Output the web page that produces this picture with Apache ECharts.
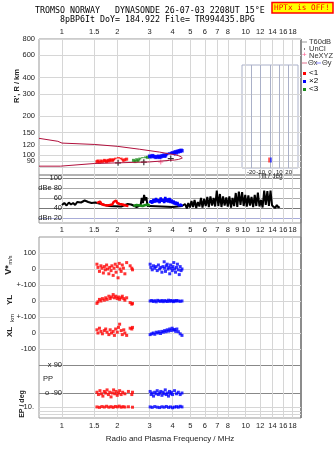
<!DOCTYPE html>
<html>
<head>
<meta charset="utf-8">
<script src="https://cdn.jsdelivr.net/npm/echarts@6/dist/echarts.min.js"></script>
<style>
html, body { margin: 0; padding: 0; background: #fff; }
#chart { width: 335px; height: 451px; }
</style>
</head>
<body>
<div id="chart"></div>
<script>
// tick labels
const FREQ_TICKS = [1, 1.5, 2, 3, 4, 5, 6, 7, 8, 10, 12, 14, 16, 18];
const FREQ_TICKS_MID = [1, 1.5, 2, 3, 4, 5, 6, 7, 8, 9, 10, 12, 14, 16, 18];
const HEIGHT_TICKS = [80, 90, 100, 120, 150, 200, 300, 400, 600, 800];
const DB_TICKS = [20, 40, 60, 80, 100];
const VXY_TICKS = [-100, 0, 100, 200, 300, 400, 500];
const VXY_LABELS = ['-100', '0', '+-100', '0', '+-100', '0', '100'];
const TILT_TICKS = [-20, -10, 0, 10, 20];

// virtual height traces [MHz, km]
const hO = [[1.55,89],[1.57,90],[1.6,88],[1.63,90],[1.66,89],[1.7,91],[1.72,90],[1.75,89],[1.78,91],[1.8,90],[1.83,92],[1.86,91],[1.9,92],[1.93,91],[1.96,93],[2.0,92],[2.03,94],[2.06,92],[2.1,93],[2.15,91],[2.2,92],[2.25,93]];
const hZ = [[2.45,91],[2.5,89],[2.55,92],[2.6,90],[2.65,93],[2.7,91],[2.75,94],[2.8,92],[2.85,95],[2.92,96],[3.0,97]];
const hX = [[3.0,98],[3.05,97],[3.1,99],[3.15,98],[3.2,97],[3.25,96],[3.3,97],[3.35,98],[3.4,96],[3.45,97],[3.5,99],[3.55,98],[3.6,100],[3.65,99],[3.7,98],[3.75,101],[3.8,100],[3.85,102],[3.9,101],[3.95,103],[4.0,104],[4.05,102],[4.1,105],[4.15,106],[4.2,104],[4.25,107],[4.3,106],[4.35,108],[4.4,107],[4.45,109],[4.5,108]];
const modelUpper = [[0.75,135],[0.95,128],[1.0,124],[1.5,121],[2.0,117],[2.65,111],[3.4,105.5],[3.86,102],[4.1,101],[4.3,99],[4.45,97],[4.52,95]];
const modelLower = [[0.75,82],[0.98,82],[1.0,83.5],[1.5,86],[2.0,87],[2.6,88],[3.0,88.5],[3.5,90],[3.86,91],[4.1,91.5],[4.3,92.5],[4.45,94],[4.52,95]];
const picks = [[2.02,87],[2.79,88],[3.91,94]];
const neXYZ = [[3.45,88.5]];

// amplitude [MHz, dB]
const ampBlack = [[1.0,46],[1.03,50],[1.06,45],[1.09,51],[1.12,47],[1.15,50],[1.18,46],[1.21,52],[1.24,48],[1.27,51],[1.3,49],[1.33,55],[1.36,57],[1.39,52],[1.42,56],[1.45,50],[1.48,48],[1.52,51],[1.55,47],
  [1.8,44],[2.1,43],[2.28,48],[2.33,45],[2.38,47],[2.43,44],[2.55,42],[2.68,46],[2.72,60],[2.76,50],[2.8,66],[2.84,55],[2.88,62],[2.92,44],[2.96,48],[3.0,44],
  [3.5,43],[4.0,42],
  [4.5,44],[4.59,40],[4.68,48],[4.78,39],[4.87,50],[4.97,41],[5.07,54],[5.17,42],[5.27,56],[5.38,40],[5.49,52],[5.6,43],[5.71,60],[5.82,41],[5.94,58],[6.06,44],[6.18,62],[6.3,42],[6.43,63],[6.56,45],[6.69,60],[6.82,43],[6.96,75],[7.1,44],[7.24,68],[7.38,42],[7.53,63],[7.68,45],[7.84,61],[7.99,43],[8.15,63],[8.32,41],[8.48,60],[8.65,44],[8.83,70],[9.0,42],[9.18,73],[9.37,46],[9.56,72],[9.75,44],[9.94,66],[10.14,43],[10.34,65],[10.55,45],[10.76,62],[10.98,42],[11.2,66],[11.42,44],[11.65,71],[11.88,43],[12.12,56],[12.36,41],[12.61,75],[12.86,46],[13.12,74],[13.38,44],[13.65,75],[13.92,45],[14.2,48],[14.48,40],[14.77,46],[15.07,41],[15.3,43]];
const ampO = [[1.55,50],[1.58,47],[1.61,53],[1.64,48],[1.67,51],[1.7,46],[1.73,49],[1.76,45],[1.79,48],[1.82,46],[1.85,50],[1.88,47],[1.91,52],[1.94,49],[1.97,55],[2.0,50],[2.03,53],[2.06,48],[2.1,51],[2.14,47],[2.18,49],[2.22,45],[2.26,47],[2.3,44]];
const ampZ = [[2.45,44],[2.5,41],[2.55,46],[2.6,42],[2.65,45],[2.7,41],[2.75,44],[2.8,42],[2.85,46],[2.9,43],[2.95,47],[3.0,44]];
const ampX = [[3.0,50],[3.05,55],[3.1,49],[3.15,58],[3.2,51],[3.25,60],[3.3,52],[3.35,57],[3.4,50],[3.45,61],[3.5,53],[3.55,58],[3.6,50],[3.65,62],[3.7,52],[3.75,59],[3.8,51],[3.85,60],[3.9,50],[3.95,57],[4.0,49],[4.05,55],[4.1,47],[4.15,53],[4.2,46],[4.25,52],[4.3,45],[4.35,49],[4.4,44],[4.45,47],[4.5,43]];

// V*, YL, XL [MHz, value]
const vO = [[1.55,30],[1.57,10],[1.6,-15],[1.63,20],[1.65,5],[1.68,-25],[1.7,15],[1.72,-5],[1.75,25],[1.77,0],[1.8,-30],[1.82,10],[1.85,-10],[1.87,20],[1.9,-40],[1.92,5],[1.95,30],[1.97,-20],[2.0,15],[2.02,-55],[2.05,35],[2.07,0],[2.1,-15],[2.13,25],[2.16,5],[2.2,-30],[2.25,40],[2.35,20],[2.4,5],[2.42,-5]];
const vX = [[3.02,30],[3.05,10],[3.1,-5],[3.15,20],[3.2,5],[3.25,15],[3.3,-10],[3.35,25],[3.4,0],[3.45,10],[3.5,-20],[3.55,15],[3.6,45],[3.62,5],[3.66,-15],[3.7,20],[3.74,30],[3.78,0],[3.82,10],[3.86,-30],[3.9,25],[3.94,5],[3.98,-10],[4.02,15],[4.06,40],[4.1,0],[4.15,-20],[4.2,10],[4.25,30],[4.3,-5],[4.35,-35],[4.4,15],[4.45,-10],[4.5,0]];
const ylO = [[1.55,-15],[1.57,-5],[1.6,10],[1.63,0],[1.66,15],[1.7,5],[1.73,20],[1.76,10],[1.8,30],[1.83,15],[1.86,25],[1.9,40],[1.93,20],[1.96,30],[2.0,15],[2.03,25],[2.06,10],[2.1,20],[2.13,30],[2.17,15],[2.2,5],[2.25,20],[2.35,-10],[2.4,-20],[2.42,-15]];
const ylX = [[3.02,0],[3.08,3],[3.14,-3],[3.2,2],[3.26,-5],[3.32,4],[3.38,0],[3.44,-2],[3.5,3],[3.56,-4],[3.62,2],[3.68,0],[3.74,-3],[3.8,5],[3.86,-2],[3.92,3],[3.98,0],[4.04,-4],[4.1,2],[4.16,-1],[4.22,3],[4.3,0],[4.4,-2],[4.5,0]];
const xlO = [[1.55,20],[1.57,0],[1.6,30],[1.63,10],[1.66,-5],[1.7,15],[1.73,25],[1.76,5],[1.8,-10],[1.83,20],[1.86,0],[1.9,10],[1.93,-15],[1.96,25],[2.0,5],[2.03,35],[2.06,55],[2.1,15],[2.13,-10],[2.17,20],[2.2,0],[2.25,-15],[2.35,30],[2.4,25],[2.42,35]];
const xlX = [[3.02,-10],[3.08,-5],[3.14,0],[3.2,-8],[3.26,5],[3.32,0],[3.38,8],[3.44,-3],[3.5,10],[3.56,5],[3.62,15],[3.68,8],[3.74,20],[3.8,12],[3.86,25],[3.92,15],[3.98,30],[4.04,18],[4.1,22],[4.16,10],[4.22,25],[4.3,8],[4.4,-5],[4.5,-15]];

// polarization PP and EP
const ppO = [[1.55,-85],[1.58,-100],[1.61,-75],[1.64,-95],[1.67,-110],[1.7,-80],[1.73,-90],[1.76,-70],[1.79,-100],[1.82,-85],[1.85,-115],[1.88,-90],[1.91,-70],[1.94,-95],[1.97,-80],[2.0,-105],[2.03,-90],[2.06,-75],[2.1,-100],[2.14,-85],[2.2,-95],[2.3,-80],[2.4,-100],[2.42,-85]];
const ppX = [[3.02,-80],[3.06,-100],[3.1,-90],[3.15,-110],[3.2,-85],[3.25,-95],[3.3,-75],[3.35,-100],[3.4,-90],[3.45,-80],[3.5,-105],[3.55,-85],[3.6,-95],[3.65,-70],[3.7,-100],[3.75,-90],[3.8,-110],[3.85,-80],[3.9,-95],[3.95,-85],[4.0,-100],[4.1,-75],[4.2,-95],[4.3,-85],[4.4,-100],[4.5,-90]];
const epO = [[1.55,12],[1.6,9],[1.65,15],[1.7,11],[1.75,18],[1.8,10],[1.85,14],[1.9,9],[1.95,16],[2.0,12],[2.05,20],[2.1,10],[2.15,14],[2.2,11],[2.3,13],[2.42,10]];
const epX = [[3.02,12],[3.1,9],[3.2,15],[3.3,10],[3.4,8],[3.5,13],[3.6,10],[3.7,16],[3.8,9],[3.9,12],[4.0,7],[4.1,11],[4.2,14],[4.3,10],[4.4,18],[4.5,12]];

// tilt [deg, km]
const tiltX = [[-1, 91]];
const tiltY = [[1, 91]];

const RED = '#ff0000', BLUE = '#0000ff', GREEN = '#1a8c1a', MODEL = '#b0103c';
const FONT = 'Liberation Sans';
const PLUS = 'path://M4,0H6V4H10V6H6V10H4V6H0V4H4Z';

var chart = echarts.init(document.getElementById('chart'));

function freqAxis(grid, extra) {
    return Object.assign({
        type: 'log', logBase: 10, gridIndex: grid, min: 0.75, max: 20,
        axisLine: { show: false },
        axisTick: { show: false, customValues: FREQ_TICKS },
        axisLabel: { show: false, customValues: FREQ_TICKS },
        splitLine: { show: true, lineStyle: { color: '#d6d6d6', width: 1 } },
        minorTick: { show: false }, minorSplitLine: { show: false }
    }, extra);
}
function lbl(extra) {
    return Object.assign({ show: true, fontSize: 7.5, color: '#222', fontFamily: FONT }, extra);
}
function offset(data, off) { return data.map(d => [d[0], d[1] + off]); }
function dots(data, grid, color, size, off) {
    return {
        type: 'scatter', xAxisIndex: grid, yAxisIndex: grid, data: offset(data, off || 0),
        symbol: 'rect', symbolSize: size, itemStyle: { color: color }, silent: true
    };
}
function line(data, grid, color, width) {
    return {
        type: 'line', xAxisIndex: grid, yAxisIndex: grid, data: data, showSymbol: false,
        lineStyle: { color: color, width: width }, silent: true
    };
}

var gridBorder = { show: true, borderColor: '#999', borderWidth: 1, backgroundColor: 'transparent' };

var option = {
    animation: false,
    textStyle: { fontFamily: FONT },
    grid: [
        Object.assign({ left: 39, right: 34, top: 39, height: 136 }, gridBorder),
        Object.assign({ left: 39, right: 34, top: 175, height: 48 }, gridBorder),
        Object.assign({ left: 39, right: 34, top: 237, height: 181 }, gridBorder),
        { left: 39, right: 34, top: 358, height: 42, show: false },
        { left: 39, right: 34, top: 400, height: 18, show: false },
        { left: 242, width: 56, top: 65, height: 103, show: true, borderColor: '#aab0c8', borderWidth: 1 }
    ],
    xAxis: [
        freqAxis(0, { position: 'top', axisLabel: lbl({ customValues: FREQ_TICKS, margin: 3 }) }),
        freqAxis(1, { position: 'bottom', axisLabel: lbl({ customValues: FREQ_TICKS_MID, margin: 3 }) }),
        freqAxis(2, {}),
        freqAxis(3, { splitLine: { show: false } }),
        freqAxis(4, { position: 'bottom', splitLine: { show: false }, axisLabel: lbl({ customValues: FREQ_TICKS, margin: 4 }) }),
        {
            type: 'value', gridIndex: 5, min: -30, max: 30,
            axisLine: { show: false }, axisTick: { show: false, customValues: TILT_TICKS },
            axisLabel: lbl({ customValues: TILT_TICKS, fontSize: 6, margin: 1 }),
            splitLine: { show: true, lineStyle: { color: '#aab0c8' } }
        }
    ],
    yAxis: [
        {
            type: 'log', logBase: 10, gridIndex: 0, min: 70, max: 800,
            axisLine: { show: false },
            axisTick: { show: false, customValues: HEIGHT_TICKS },
            axisLabel: lbl({ customValues: HEIGHT_TICKS, margin: 4 }),
            splitLine: { show: true, lineStyle: { color: '#d6d6d6' } },
            minorTick: { show: false }, minorSplitLine: { show: false }
        },
        {
            type: 'value', gridIndex: 1, min: 10, max: 106,
            axisLine: { show: false },
            axisTick: { show: false, customValues: DB_TICKS },
            axisLabel: lbl({
                customValues: DB_TICKS, margin: -23,
                formatter: v => v === 80 ? 'dBe 80' : (v === 20 ? 'dBn 20' : String(v))
            }),
            splitLine: { show: true, lineStyle: { color: ['#a8acd8', '#777', '#aaa', '#aaa', '#888'] } }
        },
        {
            type: 'value', gridIndex: 2, min: -531.25, max: 600,
            axisLine: { show: false },
            axisTick: { show: false, customValues: VXY_TICKS },
            axisLabel: lbl({ customValues: VXY_TICKS, margin: 3, formatter: v => VXY_LABELS[VXY_TICKS.indexOf(v)] }),
            splitLine: { show: true, lineStyle: { color: '#d6d6d6' } }
        },
        {
            type: 'value', gridIndex: 3, min: -135, max: 135,
            axisLine: { show: false },
            axisTick: { show: false, customValues: [-90, 90] },
            axisLabel: lbl({ customValues: [-90, 90], margin: -23, formatter: v => v > 0 ? 'x 90' : 'o -90' }),
            splitLine: { show: true, lineStyle: { color: '#888' } }
        },
        {
            type: 'log', logBase: 10, gridIndex: 4, min: 0.01, max: 1000,
            axisLine: { show: false },
            axisTick: { show: false, customValues: [0.1, 1, 10] },
            axisLabel: lbl({ customValues: [0.1, 10], margin: 5, formatter: v => v >= 10 ? '10.' : '0.1' }),
            splitLine: { show: true, lineStyle: { color: '#d6d6d6' } },
            minorTick: { show: false }, minorSplitLine: { show: false }
        },
        { type: 'log', logBase: 10, gridIndex: 5, min: 79, max: 500, show: false }
    ],
    series: [
        line(modelUpper, 0, MODEL, 1),
        line(modelLower, 0, MODEL, 1),
        dots(hO, 0, RED, 3),
        dots(hZ, 0, GREEN, 3),
        dots(hX, 0, BLUE, 3.5),
        { type: 'scatter', xAxisIndex: 0, yAxisIndex: 0, data: picks, symbol: 'emptyCircle', symbolSize: 7,
          itemStyle: { color: '#fff', borderColor: '#000', borderWidth: 1 }, silent: true },
        { type: 'scatter', xAxisIndex: 0, yAxisIndex: 0, data: picks, symbol: PLUS, symbolSize: 6,
          itemStyle: { color: '#000' }, silent: true },
        { type: 'scatter', xAxisIndex: 0, yAxisIndex: 0, data: neXYZ, symbol: PLUS, symbolSize: 5,
          itemStyle: { color: '#ff5a8c' }, silent: true },

        line(ampBlack, 1, '#000', 2),
        line(ampO, 1, RED, 2.5),
        line(ampZ, 1, GREEN, 2.5),
        line(ampX, 1, BLUE, 2.5),

        dots(vO, 2, RED, 3, 400),
        dots(vX, 2, BLUE, 3, 400),
        dots(ylO, 2, RED, 3, 200),
        dots(ylX, 2, BLUE, 3, 200),
        dots(xlO, 2, RED, 3, 0),
        dots(xlX, 2, BLUE, 3, 0),

        dots(ppO, 3, RED, 3),
        dots(ppX, 3, BLUE, 3),
        dots(epO, 4, RED, 3),
        dots(epX, 4, BLUE, 3),

        { type: 'scatter', xAxisIndex: 5, yAxisIndex: 5, data: tiltX, symbol: 'rect', symbolSize: [1.5, 5],
          itemStyle: { color: RED }, silent: true },
        { type: 'scatter', xAxisIndex: 5, yAxisIndex: 5, data: tiltY, symbol: 'rect', symbolSize: [1.5, 5],
          itemStyle: { color: BLUE }, silent: true }
    ],
    graphic: [
        { type: 'text', left: 35, top: 7, style: { text: 'TROMSO NORWAY   DYNASONDE 26-07-03 2208UT 15°E', font: '8.3px "DejaVu Sans Mono"', fill: '#000' } },
        { type: 'text', left: 60, top: 16, style: { text: '8pBP6It DoY= 184.922 File= TR994435.BPG', font: '8.3px "DejaVu Sans Mono"', fill: '#000' } },
        { type: 'rect', shape: { x: 272, y: 2.5, width: 61, height: 10.5 }, style: { fill: '#ffff00', stroke: '#ff0000', lineWidth: 1.5 } },
        { type: 'text', left: 274, top: 4, style: { text: 'HPTx is OFF!', font: '7.7px "DejaVu Sans Mono"', fill: '#ff0000' } },

        // legend
        { type: 'line', shape: { x1: 302, y1: 42, x2: 307, y2: 42 }, style: { stroke: '#999', lineWidth: 1 } },
        { type: 'text', left: 309, top: 38, style: { text: 'T60dB', font: '7.5px "Liberation Sans"', fill: '#333' } },
        { type: 'rect', shape: { x: 304, y: 48.5, width: 1, height: 1 }, style: { fill: '#000' } },
        { type: 'text', left: 309, top: 45, style: { text: 'UnCl', font: '7.5px "Liberation Sans"', fill: '#333' } },
        { type: 'text', left: 302, top: 51, style: { text: '+', font: '8px "Liberation Sans"', fill: '#ff5a8c' } },
        { type: 'text', left: 309, top: 52, style: { text: 'NeXYZ', font: '7.5px "Liberation Sans"', fill: '#333' } },
        { type: 'line', shape: { x1: 302, y1: 63, x2: 307, y2: 63 }, style: { stroke: '#e0708c', lineWidth: 1 } },
        { type: 'text', left: 308, top: 59, style: { text: 'Θx', font: '7.5px "Liberation Sans"', fill: '#333' } },
        { type: 'line', shape: { x1: 316, y1: 63, x2: 321, y2: 63 }, style: { stroke: '#8a8aff', lineWidth: 1 } },
        { type: 'text', left: 322, top: 59, style: { text: 'Θy', font: '7.5px "Liberation Sans"', fill: '#333' } },
        { type: 'rect', shape: { x: 303, y: 72, width: 3, height: 3 }, style: { fill: RED } },
        { type: 'text', left: 309, top: 69, style: { text: '<1', font: '8px "Liberation Sans"', fill: '#000' } },
        { type: 'rect', shape: { x: 303, y: 80, width: 3, height: 3 }, style: { fill: BLUE } },
        { type: 'text', left: 309, top: 77, style: { text: '×2', font: '8px "Liberation Sans"', fill: '#000' } },
        { type: 'rect', shape: { x: 303, y: 88, width: 3, height: 3 }, style: { fill: GREEN } },
        { type: 'text', left: 309, top: 85, style: { text: '<3', font: '8px "Liberation Sans"', fill: '#000' } },

        // tilt inset caption
        { type: 'text', left: 258, top: 173, style: { text: 'Tilt / deg', font: '6.5px "Liberation Sans"', fill: '#222' } },

        // right frame edge
        { type: 'line', shape: { x1: 301, y1: 39, x2: 301, y2: 418 }, style: { stroke: '#777', lineWidth: 1.5 } },

        // axis names
        { type: 'text', x: 17, y: 86, rotation: Math.PI / 2, style: { text: "R', R / km", font: 'bold 7.5px "Liberation Sans"', fill: '#222', align: 'center', verticalAlign: 'middle' } },
        { type: 'text', x: 9, y: 270, rotation: Math.PI / 2, style: { text: 'V*', font: 'bold 9px "Liberation Sans"', fill: '#222', align: 'center', verticalAlign: 'middle' } },
        { type: 'text', x: 10, y: 260, rotation: Math.PI / 2, style: { text: 'm/s', font: '5.5px "Liberation Sans"', fill: '#222', align: 'center', verticalAlign: 'middle' } },
        { type: 'text', x: 10, y: 300, rotation: Math.PI / 2, style: { text: 'YL', font: 'bold 8px "Liberation Sans"', fill: '#222', align: 'center', verticalAlign: 'middle' } },
        { type: 'text', x: 12, y: 318, rotation: Math.PI / 2, style: { text: 'km', font: '6px "Liberation Sans"', fill: '#222', align: 'center', verticalAlign: 'middle' } },
        { type: 'text', x: 10, y: 332, rotation: Math.PI / 2, style: { text: 'XL', font: 'bold 8px "Liberation Sans"', fill: '#222', align: 'center', verticalAlign: 'middle' } },
        { type: 'text', left: 43, top: 375, style: { text: 'PP', font: '7.5px "Liberation Sans"', fill: '#222' } },
        { type: 'text', x: 22, y: 404, rotation: Math.PI / 2, style: { text: 'EP / deg', font: 'bold 7px "Liberation Sans"', fill: '#222', align: 'center', verticalAlign: 'middle' } },
        { type: 'text', x: 170, y: 439, style: { text: 'Radio and Plasma Frequency / MHz', font: '8px "Liberation Sans"', fill: '#222', align: 'center', verticalAlign: 'middle' } }
    ]
};
chart.setOption(option);
</script>
</body>
</html>
